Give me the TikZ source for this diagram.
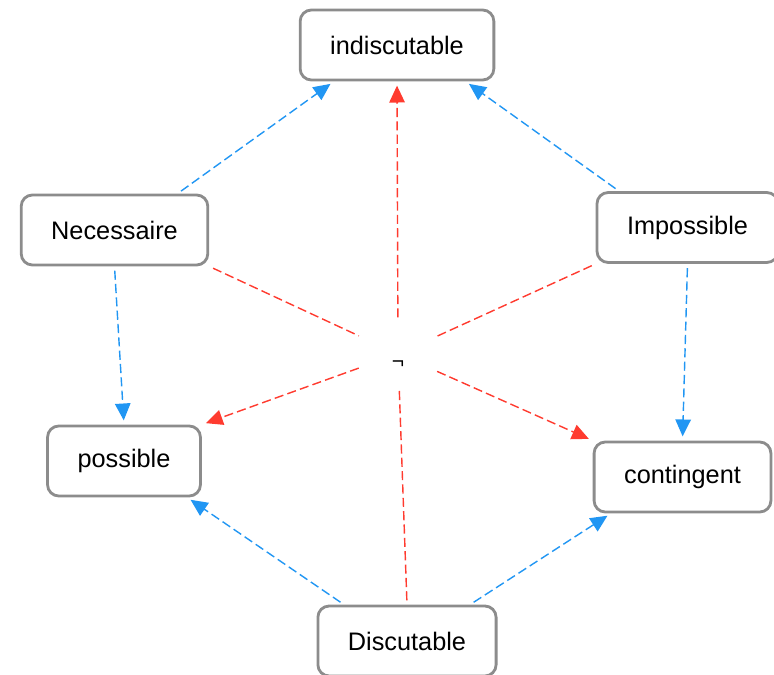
\documentclass[tikz,border=0pt]{standalone}
\usepackage{fontspec}
\setmainfont{Liberation Sans}
\usetikzlibrary{arrows.meta}
\definecolor{boxgray}{HTML}{8C8C8C}
\definecolor{linkblue}{HTML}{2196F3}
\definecolor{linkred}{HTML}{FF3B2F}
\tikzset{
  term/.style={draw=boxgray, line width=2pt, rounded corners=8pt, fill=white,
    minimum height=1.75cm, inner xsep=0.75cm, font=\fontsize{18}{20}\selectfont},
  negnode/.style={minimum width=1.75cm, minimum height=1.6cm, inner sep=0pt,
    text height=0pt, text depth=0pt, font=\fontsize{15}{16}\selectfont},
  link/.style={line width=1pt, dash pattern=on 6.5pt off 3pt,
    shorten >=3pt, shorten <=3pt},
  tip/.style={-{Triangle[length=12pt,width=11pt]}},
  implies/.style={link, tip, draw=linkblue},
  negates/.style={link, draw=linkred},
}
\begin{document}
\begin{tikzpicture}[x=0.025cm, y=-0.025cm]
  \useasboundingbox (0,0) rectangle (774,675);
  \node[term] (ind) at (397,45) {indiscutable};
  \node[term] (nec) at (114.5,230) {Necessaire};
  \node[term] (imp) at (687.5,227.5) {Impossible};
  \node[term] (pos) at (124,461) {possible};
  \node[term] (cont) at (682.5,477) {contingent};
  \node[term] (dis) at (407,641) {Discutable};
  \node[negnode] (not) at (398,354) {\raisebox{-10.5pt}{¬}};
  \draw[implies] (nec.30) -- (ind.210);
  \draw[implies] (imp.152) -- (ind.332);
  \draw[implies] (nec.south) -- (pos.north);
  \draw[implies] (imp.south) -- (cont.north);
  \draw[implies] (dis.150) -- (pos.330);
  \draw[implies] (dis.30) -- (cont.207);
  \draw[negates] (dis.north) -- (not);
  \draw[negates, tip] (not) -- (ind.south);
  \draw[negates] (nec.south east) -- (not);
  \draw[negates, tip] (not) -- (cont.north west);
  \draw[negates] (imp.south west) -- (not);
  \draw[negates, tip] (not) -- (pos.north east);
\end{tikzpicture}
\end{document}
